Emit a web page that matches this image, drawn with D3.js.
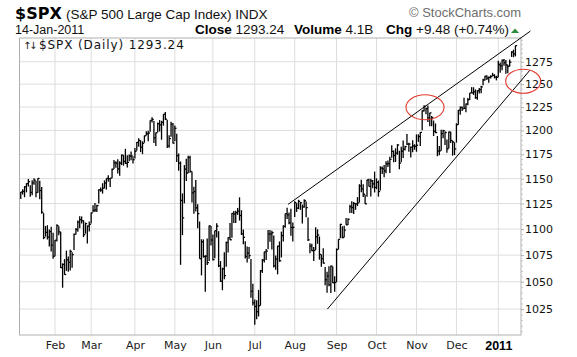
<!DOCTYPE html>
<html><head><meta charset="utf-8">
<script src="https://cdn.jsdelivr.net/npm/d3@7"></script>
<style>body{margin:0;background:#fff}svg{display:block}</style>
</head><body><svg id="c" width="577" height="357"></svg>
<script>
// ---- data: $SPX daily bars, 5-Jan-2010 .. 14-Jan-2011 ----
const monthLabels = ["Feb","Mar","Apr","May","Jun","Jul","Aug","Sep","Oct","Nov","Dec","2011"];
const monthStartIdx = [18,37,60,81,101,123,144,166,187,208,229,251];
const priceTicks = [1025,1050,1075,1100,1125,1150,1175,1200,1225,1250,1275];

const closes = [
// Jan
1136.52,1137.14,1141.69,1144.98,1146.98,1136.22,1145.68,1148.46,1136.03,1150.23,1138.04,1116.48,1091.76,1096.78,1092.17,1097.50,1084.53,1073.87,
// Feb
1089.19,1103.32,1097.28,1063.11,1066.19,1056.74,1070.52,1068.13,1078.47,1075.51,1094.87,1099.51,1106.75,1109.17,1108.01,1094.60,1105.24,1102.94,1104.49,
// Mar
1115.71,1118.31,1118.79,1122.97,1138.70,1138.50,1140.45,1145.61,1150.24,1149.99,1150.51,1159.46,1166.21,1165.83,1159.90,1165.81,1174.17,1167.72,1165.73,1166.59,1173.22,1173.27,1169.43,
// Apr
1178.10,1187.44,1189.44,1182.45,1186.44,1194.37,1196.48,1197.30,1210.65,1211.67,1192.13,1197.52,1207.17,1205.94,1208.67,1217.28,1212.05,1183.71,1191.36,1206.78,1186.69,
// May
1202.26,1173.60,1165.87,1128.15,1110.88,1159.73,1155.79,1171.67,1157.44,1135.68,1136.94,1120.80,1115.05,1071.59,1087.69,1073.65,1074.03,1067.95,1103.06,1089.41,
// Jun
1070.71,1098.38,1102.83,1064.88,1050.47,1062.00,1055.69,1086.84,1091.60,1089.63,1115.23,1114.61,1116.04,1117.51,1113.20,1095.31,1092.04,1073.69,1076.76,1074.57,1041.24,1030.71,
// Jul
1027.37,1022.58,1028.06,1060.27,1070.25,1077.96,1078.75,1095.34,1095.17,1096.48,1064.88,1071.25,1083.48,1069.59,1093.67,1102.66,1115.01,1113.84,1106.13,1101.53,1101.60,
// Aug
1125.86,1120.46,1127.24,1125.81,1121.64,1127.79,1121.06,1089.47,1083.61,1079.25,1079.38,1092.54,1094.16,1075.63,1071.69,1067.36,1051.87,1055.33,1047.22,1064.59,1048.92,1049.33,
// Sep
1080.29,1090.10,1104.51,1091.84,1098.87,1104.18,1109.55,1121.90,1121.10,1125.07,1124.66,1125.59,1142.71,1139.78,1134.28,1124.83,1148.67,1142.16,1147.70,1144.73,1141.20,
// Oct
1146.24,1137.03,1160.75,1159.97,1158.06,1165.15,1165.32,1169.77,1178.10,1173.81,1176.19,1184.71,1165.90,1178.17,1180.26,1183.08,1185.62,1185.64,1182.45,1183.78,1183.26,
// Nov
1184.38,1193.57,1197.96,1221.06,1225.85,1223.25,1213.40,1218.71,1213.54,1199.21,1197.75,1178.34,1178.59,1196.69,1199.73,1197.84,1180.73,1198.35,1189.40,1187.76,1180.55,
// Dec
1206.07,1221.53,1224.71,1223.12,1223.75,1228.28,1233.00,1240.40,1240.46,1241.59,1235.23,1242.87,1243.91,1247.08,1254.60,1258.84,1256.77,1257.54,1258.51,1259.78,1257.88,1257.64,
// Jan 2011
1271.87,1270.20,1276.56,1273.85,1271.50,1269.75,1274.48,1285.96,1283.76,1293.24
];

const highs = [
1136.63,1139.19,1142.46,1145.39,1149.74,1143.29,1148.40,1150.41,1147.77,1150.45,1147.95,1141.58,1115.49,1102.97,1103.69,1099.51,1102.32,1096.45,
1089.38,1104.73,1102.72,1097.25,1067.13,1071.20,1079.28,1073.67,1080.04,1077.81,1095.67,1101.03,1108.24,1112.42,1112.29,1108.58,1106.42,1103.50,1107.24,
1116.11,1123.46,1125.64,1123.73,1139.38,1141.05,1145.37,1148.26,1150.24,1153.41,1150.51,1160.28,1169.20,1167.82,1169.84,1167.77,1174.72,1174.17,1180.69,1173.93,1174.85,1177.83,1173.04,
1181.43,1187.73,1191.80,1189.60,1188.58,1194.66,1199.20,1199.67,1210.65,1213.92,1210.17,1197.87,1208.50,1210.99,1210.27,1217.28,1219.80,1211.38,1195.05,1209.36,1207.99,
1205.13,1196.60,1175.95,1167.58,1135.13,1163.85,1170.48,1173.57,1173.57,1157.19,1141.88,1148.66,1124.27,1107.34,1090.16,1089.95,1074.75,1090.75,1103.52,1102.96,
1094.77,1098.38,1105.67,1097.90,1069.31,1063.15,1077.74,1087.85,1092.05,1105.87,1115.59,1117.72,1117.85,1120.68,1131.23,1118.50,1099.64,1088.16,1083.11,1082.60,1071.41,1048.08,
1033.58,1032.95,1042.50,1060.89,1071.25,1078.16,1080.78,1099.08,1099.10,1098.43,1093.67,1074.70,1083.94,1088.01,1097.50,1103.73,1115.01,1120.95,1116.11,1119.95,1106.44,
1127.30,1125.44,1128.75,1126.56,1124.17,1129.24,1127.16,1111.37,1086.32,1085.76,1082.62,1101.73,1099.77,1092.75,1075.63,1081.58,1063.82,1059.38,1064.39,1065.15,1064.29,1055.14,
1081.30,1090.10,1105.10,1102.60,1103.26,1110.88,1110.23,1123.87,1127.36,1126.46,1125.44,1131.47,1144.38,1148.90,1144.38,1133.85,1148.90,1149.92,1150.00,1148.63,1157.16,
1150.30,1148.16,1162.76,1162.33,1163.87,1167.73,1168.68,1172.58,1184.38,1178.89,1181.20,1185.53,1178.78,1182.94,1189.43,1183.93,1196.14,1187.11,1183.24,1189.53,1185.46,
1195.81,1195.88,1198.30,1221.25,1227.08,1224.57,1226.84,1218.75,1215.45,1210.50,1207.43,1194.08,1183.56,1200.65,1200.75,1198.94,1190.45,1198.87,1198.62,1189.33,1187.40,
1207.61,1221.89,1225.57,1225.73,1235.05,1228.93,1234.72,1240.40,1246.73,1246.59,1244.25,1243.23,1245.81,1248.29,1255.99,1259.39,1260.03,1258.59,1259.90,1262.60,1261.09,1259.34,
1276.17,1274.12,1277.63,1278.17,1276.83,1271.52,1277.55,1286.87,1288.62,1293.24
];

const lows = [
1129.66,1133.95,1131.32,1136.22,1142.02,1131.77,1133.18,1143.80,1131.39,1135.77,1129.25,1114.84,1090.18,1092.63,1089.86,1083.11,1078.46,1071.59,
1073.89,1087.96,1093.97,1062.78,1044.50,1056.51,1060.06,1059.34,1060.59,1062.97,1079.93,1094.72,1097.48,1100.80,1105.38,1092.18,1095.50,1086.02,1097.56,
1105.36,1116.51,1116.58,1116.66,1125.12,1136.77,1134.90,1140.09,1138.99,1146.97,1141.45,1150.35,1159.94,1161.16,1155.33,1152.88,1163.83,1163.31,1165.09,1161.48,1167.72,1168.92,1165.55,
1170.69,1178.71,1182.77,1177.25,1175.12,1187.15,1194.71,1188.60,1198.69,1208.50,1186.77,1183.68,1198.16,1198.85,1190.19,1205.10,1211.07,1181.62,1181.81,1193.38,1186.32,
1188.58,1167.12,1158.15,1065.79,1094.15,1125.24,1147.71,1155.59,1156.14,1126.14,1114.96,1117.20,1100.66,1071.58,1055.90,1072.70,1040.78,1065.59,1069.50,1084.14,
1069.89,1072.03,1091.81,1063.64,1049.86,1042.17,1052.25,1063.91,1077.54,1089.30,1091.66,1105.87,1105.87,1113.81,1108.24,1094.18,1085.31,1071.78,1067.89,1071.45,1035.18,1028.33,
1010.91,1015.93,1018.35,1028.11,1058.24,1068.10,1070.45,1080.53,1087.68,1080.37,1063.32,1061.11,1056.88,1068.67,1072.78,1087.88,1101.30,1109.78,1104.59,1093.52,1088.01,
1111.64,1116.76,1119.46,1118.81,1105.31,1120.91,1111.58,1088.35,1076.69,1078.76,1069.49,1079.81,1085.76,1070.66,1063.91,1067.08,1046.68,1039.83,1045.94,1039.70,1048.79,1040.88,
1049.72,1080.39,1091.27,1091.15,1091.85,1104.18,1103.92,1115.70,1115.58,1114.63,1118.88,1122.43,1126.06,1136.22,1131.58,1124.50,1131.87,1142.00,1132.09,1140.26,1136.08,
1139.42,1131.87,1138.04,1154.85,1151.41,1155.58,1162.02,1155.71,1171.32,1166.71,1167.12,1174.55,1159.71,1166.74,1171.17,1178.99,1184.74,1177.72,1171.70,1177.10,1179.70,
1177.65,1187.86,1183.56,1200.14,1220.29,1217.19,1208.94,1204.33,1204.49,1194.08,1197.15,1173.00,1173.96,1178.59,1191.75,1184.58,1176.65,1181.11,1186.89,1173.64,1174.14,
1187.19,1206.04,1216.82,1220.67,1223.25,1219.50,1226.85,1232.58,1240.34,1238.17,1234.01,1232.85,1239.87,1240.06,1248.95,1254.19,1254.51,1251.48,1256.22,1258.78,1256.32,1254.19,
1257.62,1262.66,1265.36,1270.43,1261.70,1262.18,1269.62,1280.42,1280.07,1281.07
];

// annotations: [bar index, price]
const upperTrend = [[140.5,1124.2],[267.9,1310]];
const lowerTrend = [[161.2,1025],[267.7,1265.7]];
const circled = [[212.5,1224.8],[264.1,1253.3]];

const headerInfo = {symbol:"$SPX", name:"(S&P 500 Large Cap Index)", exch:"INDX", date:"14-Jan-2011",
  close:"1293.24", volume:"4.1B", chg:"+9.48 (+0.74%)"};

// ---- drawing ----
const svg = d3.select("#c");
const L = 19.5, R = 521, T = 38, B = 335;
const x = d3.scaleLinear().domain([0, 260]).range([20.75, 515.4]);
const y = d3.scaleLog().domain([1001.8, 1302]).range([B, T]);

svg.append("rect").attr("width",577).attr("height",357).attr("fill","#fff");

// grid
const grid = svg.append("g").attr("stroke","#dddddd").attr("stroke-width",1);
grid.selectAll(".h").data(priceTicks).join("line")
  .attr("x1",L).attr("x2",R).attr("y1",d=>y(d)).attr("y2",d=>y(d));
grid.selectAll(".v").data(monthStartIdx).join("line")
  .attr("x1",d=>x(d)).attr("x2",d=>x(d)).attr("y1",T).attr("y2",B);

// frame
svg.append("rect").attr("x",L).attr("y",T).attr("width",R-L).attr("height",B-T)
  .attr("fill","none").attr("stroke","#b0b0b0").attr("stroke-width",1);

// right axis
const minor = d3.range(1005, 1301, 5).filter(v => priceTicks.indexOf(v) < 0);
const minorAx = svg.append("g").attr("transform",`translate(${R},0)`)
  .call(d3.axisRight(y).tickValues(minor).tickSize(2).tickFormat(""));
minorAx.select(".domain").remove();
minorAx.selectAll("line").attr("stroke","#c4c4c4");
const yAx = svg.append("g").attr("transform",`translate(${R},0)`)
  .call(d3.axisRight(y).tickValues(priceTicks).tickSize(3).tickPadding(1).tickFormat(d3.format("d")));
yAx.select(".domain").remove();
yAx.selectAll("line").attr("stroke","#b0b0b0");
yAx.selectAll("text").attr("font-family","'DejaVu Sans', Verdana, sans-serif")
  .attr("font-size","11px").attr("fill","#111");

// bottom axis
const xAx = svg.append("g").attr("transform",`translate(0,${B})`)
  .call(d3.axisBottom(x).tickValues(monthStartIdx).tickSize(0).tickPadding(6)
    .tickFormat((d,i)=>monthLabels[i]));
xAx.select(".domain").remove();
xAx.selectAll("text").attr("font-family","'DejaVu Sans', Verdana, sans-serif")
  .attr("font-size","11px").attr("fill","#222");
xAx.selectAll("text").filter((d,i)=>monthLabels[i]==="2011")
  .attr("font-family","'Liberation Sans', Arial, sans-serif").attr("font-weight","bold")
  .attr("font-size","12.5px").attr("fill","#000");

// bars
const bars = svg.append("g").attr("stroke","#000").attr("stroke-width",1.3);
const idx = d3.range(closes.length);
bars.selectAll(".hl").data(idx).join("line")
  .attr("x1",i=>x(i)).attr("x2",i=>x(i)).attr("y1",i=>y(highs[i])).attr("y2",i=>y(lows[i]));
bars.selectAll(".c").data(idx).join("line")
  .attr("x1",i=>x(i)).attr("x2",i=>x(i)+1.7).attr("y1",i=>y(closes[i])).attr("y2",i=>y(closes[i]));

// trend lines
const tl = d3.line().x(d=>x(d[0])).y(d=>y(d[1]));
svg.append("path").attr("d",tl(upperTrend)).attr("stroke","#000").attr("stroke-width",1).attr("fill","none");
svg.append("path").attr("d",tl(lowerTrend)).attr("stroke","#000").attr("stroke-width",1).attr("fill","none");

// red ellipses
const radii = [[19,12.5],[17.5,12]];
svg.selectAll(".ell").data(circled).join("ellipse")
  .attr("cx",d=>x(d[0])).attr("cy",d=>y(d[1]))
  .attr("rx",(d,i)=>radii[i][0]).attr("ry",(d,i)=>radii[i][1])
  .attr("fill","none").attr("stroke","#e2392e").attr("stroke-width",1.1);

// header
const arial = "'Liberation Sans', Arial, sans-serif";
svg.append("text").attr("x",15).attr("y",18.5).attr("font-family","'DejaVu Sans', Verdana, sans-serif")
  .attr("font-weight","bold").attr("font-size","16px").attr("fill","#000").text(headerInfo.symbol);
svg.append("text").attr("x",66).attr("y",18.5).attr("font-family",arial).attr("font-size","13.5px")
  .attr("fill","#111").text(headerInfo.name + " " + headerInfo.exch);
svg.append("text").attr("x",409).attr("y",17).attr("font-family",arial).attr("font-size","13px")
  .attr("fill","#6e6e6e").text("\u00A9 StockCharts.com");
svg.append("text").attr("x",15).attr("y",34).attr("font-family",arial).attr("font-size","12.5px")
  .attr("fill","#111").text(headerInfo.date);

function pair(xp, label, value){
  const t = svg.append("text").attr("x",xp).attr("y",34).attr("font-family",arial).attr("font-size","13.5px").attr("fill","#111");
  t.append("tspan").attr("font-weight","bold").attr("fill","#000").text(label);
  t.append("tspan").text(" " + value);
}
pair(195, "Close", headerInfo.close);
pair(294, "Volume", headerInfo.volume);
pair(386, "Chg", headerInfo.chg);
svg.append("path").attr("d","M511,33 L515,28.5 L519,33 Z").attr("fill","#2f8a3c");

// legend inside plot
svg.append("text").attr("x",23).attr("y",48.5).attr("font-family","'DejaVu Sans', sans-serif")
  .attr("font-size","10px").attr("letter-spacing","-2.5px").attr("fill","#222").text("\u2191\u2193");
svg.append("text").attr("x",39).attr("y",48.5).attr("font-family","'DejaVu Sans', Verdana, sans-serif")
  .attr("font-size","12px").attr("letter-spacing","0.9px").attr("fill","#111")
  .text(headerInfo.symbol + " (Daily) " + headerInfo.close);
</script></body></html>
